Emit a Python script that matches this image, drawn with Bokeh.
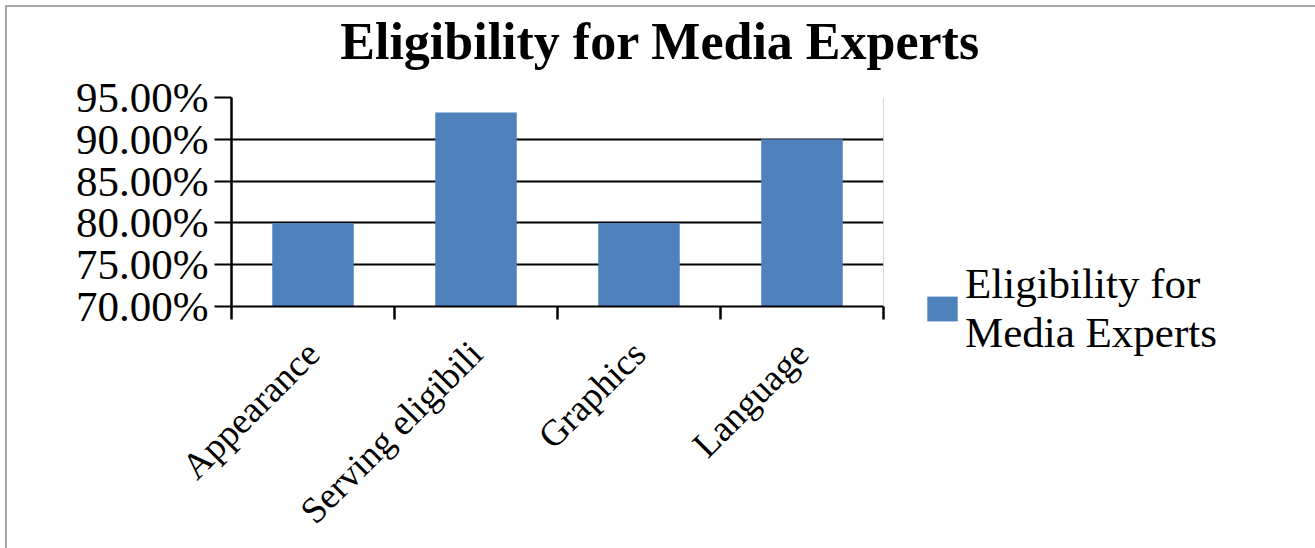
from bokeh.plotting import figure
from bokeh.models import (Range1d, FixedTicker, PrintfTickFormatter, LinearAxis,
                          Legend, LegendItem, Span)
from bokeh.embed import file_html
from bokeh.resources import INLINE
import math

# ---- data ----
categories = ["Appearance", "Serving eligibili", "Graphics", "Language"]
values = [80.0, 93.2, 80.0, 90.0]
series_name = "Eligibility for\nMedia Experts"
title_text = "Eligibility for Media Experts"
y_ticks = [70, 75, 80, 85, 90, 95]

Y_MIN, Y_MAX = 70, 95
FONT = "Liberation Serif"
BAR_COLOR = "#4f81bd"
TITLE_X = 2.63   # horizontal anchor of the chart title (x units)

n = len(categories)
centers = [i + 0.5 for i in range(n)]
bounds = list(range(n + 1))

p = figure(frame_width=652, frame_height=209, output_backend="svg",
           toolbar_location=None, title=None,
           x_range=Range1d(0, n), y_range=Range1d(Y_MIN, Y_MAX),
           min_border_left=224, min_border_right=429, min_border_top=90,
           min_border_bottom=242)
p.styles = {"margin": "5px 0 0 5px", "border": "2px solid #a6a6a6",
            "border-bottom": "none"}
p.background_fill_color = "white"
p.border_fill_color = "white"
p.outline_line_color = None

bars = p.vbar(x=centers, top=values, bottom=Y_MIN, width=0.5,
              fill_color=BAR_COLOR, line_color=None)

# grid
p.xgrid.grid_line_color = None
p.ygrid.ticker = FixedTicker(ticks=y_ticks)
p.ygrid.grid_line_color = "black"
p.ygrid.grid_line_width = 2

# y axis
ya = p.left[0]
ya.ticker = FixedTicker(ticks=y_ticks)
ya.formatter = PrintfTickFormatter(format="%.2f%%")
ya.major_label_text_font = FONT
ya.major_label_text_font_size = "43px"
ya.major_label_text_color = "black"
ya.major_tick_out = 17
ya.major_tick_in = 0
ya.major_tick_line_width = 2
ya.major_tick_line_color = "black"
ya.minor_tick_line_color = None
ya.axis_line_width = 2.5
ya.axis_line_color = "black"
ya.major_label_standoff = 6

# x axis (below): labels at category centres, tick marks at boundaries
xa = p.below[0]
xa.ticker = FixedTicker(ticks=centers, minor_ticks=bounds)
xa.major_label_overrides = {c: cat for c, cat in zip(centers, categories)}
xa.major_label_orientation = math.pi / 4
xa.major_label_text_font = FONT
xa.major_label_text_font_size = "37px"
xa.major_label_text_color = "black"
xa.major_label_standoff = 28
xa.major_tick_out = 0
xa.major_tick_in = 0
xa.major_tick_line_color = None
xa.minor_tick_out = 13
xa.minor_tick_in = 0
xa.minor_tick_line_width = 2.5
xa.minor_tick_line_color = "black"
xa.axis_line_width = 2
xa.axis_line_color = "black"

# chart title, centred over the whole chart area
tax = LinearAxis(ticker=FixedTicker(ticks=[TITLE_X], minor_ticks=[]),
                 major_label_overrides={TITLE_X: title_text},
                 major_label_text_font=FONT, major_label_text_font_style="bold",
                 major_label_text_font_size="52px", major_label_text_color="black",
                 major_label_standoff=28, major_tick_out=0, major_tick_in=0,
                 major_tick_line_color=None, minor_tick_line_color=None,
                 axis_line_color=None)
p.add_layout(tax, "above")

# right plot-area edge
p.add_layout(Span(location=n, dimension="height", line_color="#b3b3b3", line_width=1))

# legend (outside, right)
legend = Legend(items=[LegendItem(label=series_name, renderers=[bars])],
                location=(40, -51), padding=0, margin=0, spacing=0,
                glyph_width=38, glyph_height=31, label_standoff=4,
                label_text_font=FONT, label_text_font_size="43px",
                label_text_color="black", label_text_line_height=1.1,
                border_line_color=None, background_fill_alpha=0)
p.add_layout(legend, "right")

open("out.html", "w").write(file_html(p, INLINE))
